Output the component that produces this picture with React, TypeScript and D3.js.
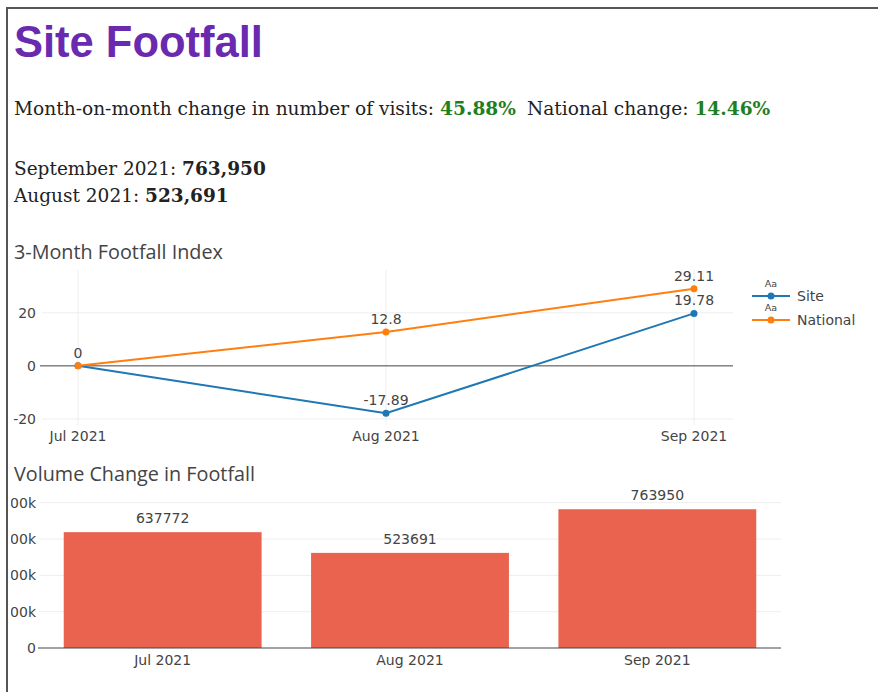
import React from "react";
import * as d3 from "d3";

const months = ["Jul 2021", "Aug 2021", "Sep 2021"];
const siteIndex = [0, -17.89, 19.78];
const nationalIndex = [0, 12.8, 29.11];
const volumes = [637772, 523691, 763950];
const indexTicks = [-20, 0, 20];
const volumeTicks = [0, 200000, 400000, 600000, 800000];
const volumeTickLabels = ["0", "200k", "400k", "600k", "800k"];
const siteChange = "45.88%";
const nationalChange = "14.46%";
const septVisits = "763,950";
const augVisits = "523,691";

const W = 878;
const H = 692;
const TICK_FONT = "'DejaVu Sans', Verdana, sans-serif";
const TITLE_FONT = "'Open Sans', Arial, sans-serif";
const SERIF = "'DejaVu Serif', Georgia, serif";
const BLUE = "#1f77b4";
const ORANGE = "#ff7f0e";
const BAR = "#e9634f";
const GREEN = "#1f7f1f";
const TF = 14;

export default function App() {
  // line chart scales
  const lx = d3.scalePoint<string>().domain(months).range([78, 694]);
  const ly = d3.scaleLinear().domain([-22.3, 32]).range([425, 281]);
  const lineGen = d3
    .line<number>()
    .x((_, i) => lx(months[i]) as number)
    .y((d) => ly(d));

  // bar chart scales
  const bx = d3.scaleBand<string>().domain(months).range([39, 781]).paddingInner(0.2).paddingOuter(0.1);
  const by = d3.scaleLinear().domain([0, 800000]).range([648, 502.7]);

  const series = [
    { name: "Site", values: siteIndex, color: BLUE },
    { name: "National", values: nationalIndex, color: ORANGE },
  ];

  return (
    <svg width={W} height={H} style={{ position: "absolute", left: 0, top: 0, background: "#fff" }}>
      <defs>
        <clipPath id="inner">
          <rect x={11} y={9} width={W - 11} height={H - 9} />
        </clipPath>
      </defs>
      {/* border */}
      <line x1={7} y1={8} x2={W} y2={8} stroke="#555" strokeWidth={2} />
      <line x1={7} y1={7} x2={7} y2={H} stroke="#555" strokeWidth={2} />

      {/* header */}
      <text x={14} y={57} fontFamily="'Liberation Sans', Arial, sans-serif" fontWeight="bold" fontSize={43.5} fill="#6a2ab0">
        Site Footfall
      </text>
      <text x={14} y={115} fontFamily={SERIF} fontSize={18.6} fill="#222">
        Month-on-month change in number of visits:{" "}
        <tspan fontWeight="bold" fill={GREEN}>{siteChange}</tspan>
        <tspan dx={11}>National change: </tspan>
        <tspan fontWeight="bold" fill={GREEN}>{nationalChange}</tspan>
      </text>
      <text x={14} y={175} fontFamily={SERIF} fontSize={18.5} fill="#222">
        September 2021: <tspan fontWeight="bold">{septVisits}</tspan>
      </text>
      <text x={14} y={202} fontFamily={SERIF} fontSize={18.5} fill="#222">
        August 2021: <tspan fontWeight="bold">{augVisits}</tspan>
      </text>

      {/* line chart */}
      <text x={14} y={259} fontFamily={TITLE_FONT} fontSize={19.8} fill="#444">
        3-Month Footfall Index
      </text>
      {months.map((m) => (
        <line key={m} x1={lx(m)} x2={lx(m)} y1={270} y2={425} stroke="#eee" strokeWidth={1} />
      ))}
      {indexTicks.map((t) => (
        <g key={t}>
          {t !== 0 && <line x1={42} x2={733} y1={ly(t)} y2={ly(t)} stroke="#eee" strokeWidth={1} />}
          <text x={36} y={ly(t)} dy="0.35em" textAnchor="end" fontFamily={TICK_FONT} fontSize={TF} fill="#444">
            {t}
          </text>
        </g>
      ))}
      <line x1={40} x2={733} y1={ly(0)} y2={ly(0)} stroke="#444" strokeWidth={1} />
      {months.map((m) => (
        <text key={m} x={lx(m)} y={441} textAnchor="middle" fontFamily={TICK_FONT} fontSize={TF} fill="#444">
          {m}
        </text>
      ))}
      {series.map((s) => (
        <g key={s.name}>
          <path d={lineGen(s.values) || ""} fill="none" stroke={s.color} strokeWidth={2} />
          {s.values.map((v, i) => (
            <g key={i}>
              <circle cx={lx(months[i])} cy={ly(v)} r={3.5} fill={s.color} />
              {!(s.name === "National" && i === 0) && (
                <text
                  x={lx(months[i])}
                  y={ly(v) - 8}
                  textAnchor="middle"
                  fontFamily={TICK_FONT}
                  fontSize={TF}
                  fill="#444"
                >
                  {String(v)}
                </text>
              )}
            </g>
          ))}
        </g>
      ))}
      {/* legend */}
      {series.map((s, i) => {
        const y = 296 + i * 24;
        return (
          <g key={s.name}>
            <text x={771} y={y - 9} textAnchor="middle" fontFamily={TICK_FONT} fontSize={9.5} fill="#444">
              Aa
            </text>
            <line x1={752} x2={790} y1={y} y2={y} stroke={s.color} strokeWidth={2} />
            <circle cx={771} cy={y} r={3.5} fill={s.color} />
            <text x={797} y={y} dy="0.35em" fontFamily={TICK_FONT} fontSize={TF} fill="#444">
              {s.name}
            </text>
          </g>
        );
      })}

      {/* bar chart */}
      <text x={14} y={481} fontFamily={TITLE_FONT} fontSize={19.8} fill="#444">
        Volume Change in Footfall
      </text>
      <g clipPath="url(#inner)">
        {volumeTicks.map((t, i) => (
          <g key={t}>
            {t !== 0 && <line x1={39} x2={781} y1={by(t)} y2={by(t)} stroke="#eee" strokeWidth={1} />}
            <text x={36} y={by(t)} dy="0.35em" textAnchor="end" fontFamily={TICK_FONT} fontSize={TF} fill="#444">
              {volumeTickLabels[i]}
            </text>
          </g>
        ))}
      </g>
      {volumes.map((v, i) => (
        <g key={months[i]}>
          <rect
            x={bx(months[i])}
            y={by(v)}
            width={bx.bandwidth()}
            height={by(0) - by(v)}
            fill={BAR}
          />
          <text
            x={(bx(months[i]) as number) + bx.bandwidth() / 2}
            y={by(v) - 9}
            textAnchor="middle"
            fontFamily={TICK_FONT}
            fontSize={TF}
            fill="#444"
          >
            {String(v)}
          </text>
          <text
            x={(bx(months[i]) as number) + bx.bandwidth() / 2}
            y={665}
            textAnchor="middle"
            fontFamily={TICK_FONT}
            fontSize={TF}
            fill="#444"
          >
            {months[i]}
          </text>
        </g>
      ))}
      <line x1={38} x2={781} y1={by(0)} y2={by(0)} stroke="#444" strokeWidth={1} />
    </svg>
  );
}
